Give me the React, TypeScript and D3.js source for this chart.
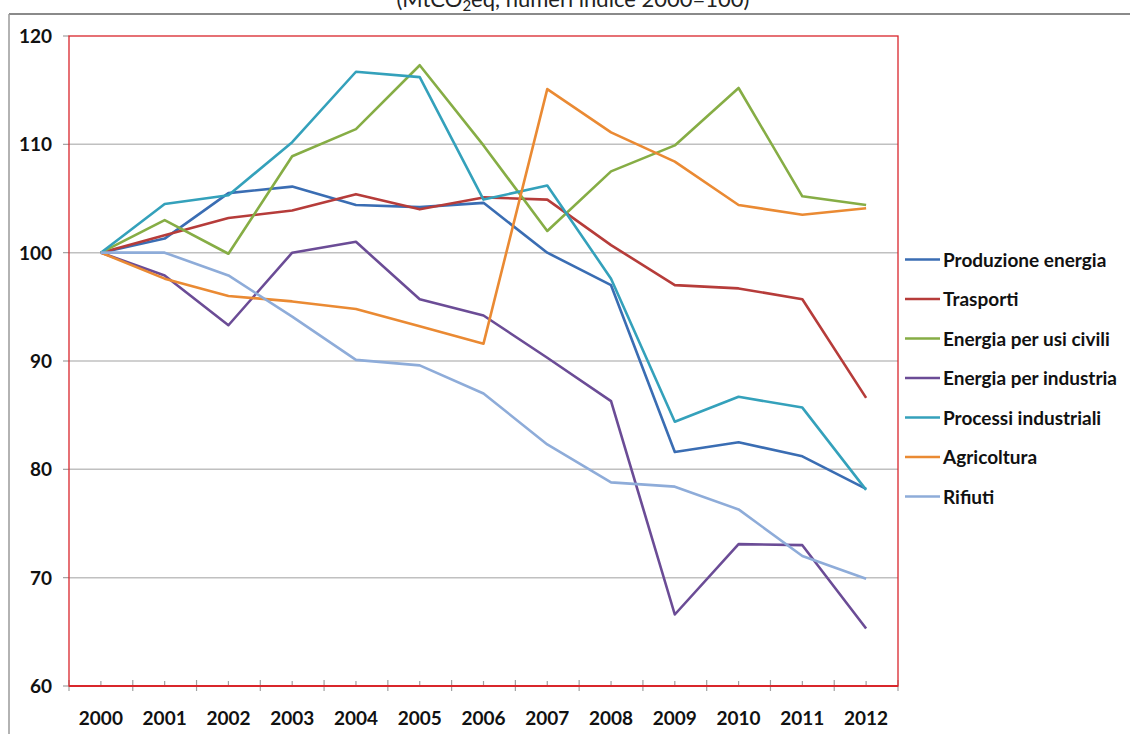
import React, { useEffect, useRef } from 'react';
import * as d3 from 'd3';

// Anni (categorie)
const years = ['2000', '2001', '2002', '2003', '2004', '2005', '2006', '2007', '2008', '2009', '2010', '2011', '2012'];

// Serie, numeri indice 2000=100
const produzioneEnergia = [100, 101.3, 105.5, 106.1, 104.4, 104.2, 104.6, 100.0, 97.0, 81.6, 82.5, 81.2, 78.2];
const trasporti = [100, 101.6, 103.2, 103.9, 105.4, 104.0, 105.1, 104.9, 100.7, 97.0, 96.7, 95.7, 86.6];
const energiaUsiCivili = [100, 103.0, 99.9, 108.9, 111.4, 117.3, 109.9, 102.0, 107.5, 109.9, 115.2, 105.2, 104.4];
const energiaIndustria = [100, 97.9, 93.3, 100.0, 101.0, 95.7, 94.2, 90.3, 86.3, 66.6, 73.1, 73.0, 65.3];
const processiIndustriali = [100, 104.5, 105.3, 110.2, 116.7, 116.2, 104.9, 106.2, 97.6, 84.4, 86.7, 85.7, 78.1];
const agricoltura = [100, 97.6, 96.0, 95.5, 94.8, 93.2, 91.6, 115.1, 111.1, 108.4, 104.4, 103.5, 104.1];
const rifiuti = [100, 100.0, 97.9, 94.1, 90.1, 89.6, 87.0, 82.3, 78.8, 78.4, 76.3, 72.0, 69.9];

const seriesNames = [
  'Produzione energia',
  'Trasporti',
  'Energia per usi civili',
  'Energia per industria',
  'Processi industriali',
  'Agricoltura',
  'Rifiuti',
];
const seriesValues = [produzioneEnergia, trasporti, energiaUsiCivili, energiaIndustria, processiIndustriali, agricoltura, rifiuti];
const seriesColors = ['#3a6db3', '#b63c3a', '#86ad45', '#6b4c96', '#34a1bb', '#ea8a33', '#8eacd9'];

const yTicks = [60, 70, 80, 90, 100, 110, 120];

export default function App() {
  const ref = useRef<SVGSVGElement>(null);

  useEffect(() => {
    const svg = d3.select(ref.current);
    svg.selectAll('*').remove();

    const plot = { left: 69, right: 898, top: 36, bottom: 686 };

    const x = d3.scaleBand().domain(years).range([plot.left, plot.right]);
    const y = d3.scaleLinear().domain([60, 120]).range([plot.bottom, plot.top]);
    const cx = (yr: string) => (x(yr) as number) + x.bandwidth() / 2;

    // cornice grigia esterna e titolo (tagliato in alto, come nell'originale)
    svg.append('line')
      .attr('x1', 9).attr('x2', 1130).attr('y1', 14).attr('y2', 14)
      .attr('stroke', '#8a8a8a').attr('stroke-width', 2);
    svg.append('line')
      .attr('x1', 9).attr('x2', 9).attr('y1', 14).attr('y2', 734)
      .attr('stroke', '#9a9a9a').attr('stroke-width', 1.5);

    const title = svg.append('text')
      .attr('x', 573).attr('y', 7)
      .attr('text-anchor', 'middle')
      .attr('font-family', 'Lato, sans-serif')
      .attr('font-size', 22)
      .attr('fill', '#222');
    title.append('tspan').text('(MtCO');
    title.append('tspan').attr('font-size', 15).attr('dy', 4).text('2');
    title.append('tspan').attr('dy', -4).text('eq, numeri indice 2000=100)');

    // griglia orizzontale
    svg.append('g')
      .selectAll('line')
      .data(yTicks.filter(t => t > 60 && t < 120))
      .enter().append('line')
      .attr('x1', plot.left).attr('x2', plot.right)
      .attr('y1', d => y(d)).attr('y2', d => y(d))
      .attr('stroke', '#c0c0c0').attr('stroke-width', 1.5);

    // tacche asse y
    svg.append('g')
      .selectAll('line')
      .data(yTicks)
      .enter().append('line')
      .attr('x1', plot.left - 6).attr('x2', plot.left)
      .attr('y1', d => y(d)).attr('y2', d => y(d))
      .attr('stroke', '#a0a0a0').attr('stroke-width', 1.2);

    svg.append('g')
      .selectAll('text')
      .data(yTicks)
      .enter().append('text')
      .attr('x', 52).attr('y', d => y(d) + 7)
      .attr('text-anchor', 'end')
      .attr('font-family', 'Lato, sans-serif')
      .attr('font-weight', 'bold')
      .attr('font-size', 19)
      .attr('fill', '#111')
      .text(d => d);

    // tacche asse x
    const bounds = years.map(yr => x(yr) as number).concat([plot.right]);
    svg.append('g')
      .selectAll('line')
      .data(bounds)
      .enter().append('line')
      .attr('x1', d => d).attr('x2', d => d)
      .attr('y1', plot.bottom - 6).attr('y2', plot.bottom + 5)
      .attr('stroke', '#a0a0a0').attr('stroke-width', 1.2);
    svg.append('g')
      .selectAll('line')
      .data(years)
      .enter().append('line')
      .attr('x1', d => cx(d)).attr('x2', d => cx(d))
      .attr('y1', plot.bottom - 5).attr('y2', plot.bottom)
      .attr('stroke', '#a0a0a0').attr('stroke-width', 1.2);

    svg.append('g')
      .selectAll('text')
      .data(years)
      .enter().append('text')
      .attr('x', d => cx(d)).attr('y', 725)
      .attr('text-anchor', 'middle')
      .attr('font-family', 'Lato, sans-serif')
      .attr('font-weight', 'bold')
      .attr('font-size', 19)
      .attr('fill', '#111')
      .text(d => d);

    // bordo rosso dell'area del grafico
    svg.append('rect')
      .attr('x', plot.left).attr('y', plot.top)
      .attr('width', plot.right - plot.left).attr('height', plot.bottom - plot.top)
      .attr('fill', 'none').attr('stroke', '#d9262b').attr('stroke-width', 1.3);
    svg.append('line')
      .attr('x1', plot.left).attr('x2', plot.right)
      .attr('y1', plot.bottom).attr('y2', plot.bottom)
      .attr('stroke', '#d9262b').attr('stroke-width', 2.2);

    // linee
    const line = d3.line<number>()
      .x((_, i) => cx(years[i]))
      .y(d => y(d));

    svg.append('g')
      .selectAll('path')
      .data(seriesValues)
      .enter().append('path')
      .attr('d', d => line(d))
      .attr('fill', 'none')
      .attr('stroke', (_, i) => seriesColors[i])
      .attr('stroke-width', 2.6)
      .attr('stroke-linejoin', 'round');

    // legenda
    const legend = svg.append('g')
      .selectAll('g')
      .data(seriesNames)
      .enter().append('g')
      .attr('transform', (_, i) => `translate(905,${259.5 + i * 39.5})`);
    legend.append('line')
      .attr('x1', 0).attr('x2', 35).attr('y1', 0).attr('y2', 0)
      .attr('stroke', (_, i) => seriesColors[i])
      .attr('stroke-width', 2.6);
    legend.append('text')
      .attr('x', 38).attr('y', 7)
      .attr('font-family', 'Lato, sans-serif')
      .attr('font-weight', 'bold')
      .attr('font-size', 19)
      .attr('fill', '#111')
      .text(d => d);
  }, []);

  return (
    <svg
      ref={ref}
      width={1130}
      height={734}
      style={{ position: 'absolute', left: 0, top: 0, background: '#fff' }}
    />
  );
}
